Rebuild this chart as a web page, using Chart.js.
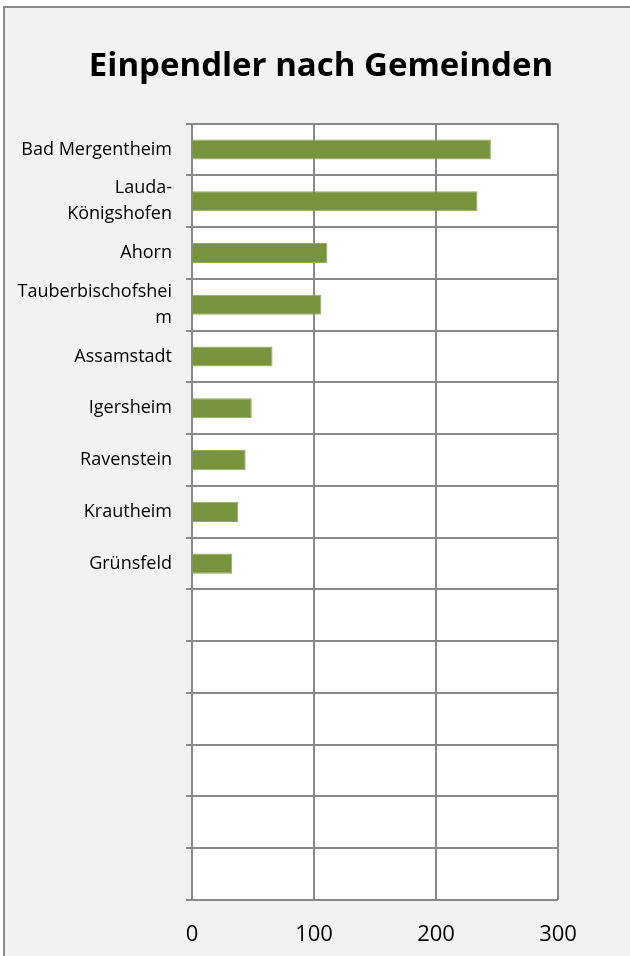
<!DOCTYPE html>
<html>
<head>
<meta charset="utf-8">
<script src="https://cdn.jsdelivr.net/npm/chart.js@4"></script>
<style>
  html, body { margin: 0; padding: 0; background: #ffffff; }
  #frame {
    position: absolute; left: 3px; top: 6px; width: 640px; height: 970px;
    background: #f2f2f2; border: 2px solid #8a8a8a; box-sizing: border-box;
  }
  #graphicEinpendler { position: absolute; left: 0; top: 0; }
</style>
</head>
<body>
<div id="frame"></div>
<canvas id="graphicEinpendler" width="630" height="956"></canvas>
<script>
// Gemeinden (leere Kategorien unten wie im Original)
const gemeinden = [
  'Bad Mergentheim', ['Lauda-', 'Königshofen'], 'Ahorn', ['Tauberbischofshei', 'm'],
  'Assamstadt', 'Igersheim', 'Ravenstein', 'Krautheim', 'Grünsfeld',
  '', '', '', '', '', ''
];
const einpendler = [245, 234, 111, 106, 66, 49, 44, 38, 33, null, null, null, null, null, null];
const xTicks = [0, 100, 200, 300];

const gridColor = '#898989';

// weißer Hintergrund nur im Plotbereich
const plotBackground = {
  id: 'plotBackground',
  beforeDraw(chart) {
    const { ctx, chartArea } = chart;
    ctx.save();
    ctx.fillStyle = '#ffffff';
    ctx.fillRect(chartArea.left, chartArea.top, chartArea.right - chartArea.left, chartArea.bottom - chartArea.top);
    ctx.restore();
  }
};

new Chart(document.getElementById('graphicEinpendler'), {
  type: 'bar',
  data: {
    labels: gemeinden,
    datasets: [{
      data: einpendler,
      backgroundColor: '#77933c',
      borderColor: '#8fae52',
      borderWidth: 1,
      categoryPercentage: 1,
      barPercentage: 0.39
    }]
  },
  options: {
    indexAxis: 'y',
    responsive: false,
    animation: false,
    layout: { padding: { left: 12, right: 0, top: 0, bottom: 0 } },
    plugins: {
      legend: { display: false },
      tooltip: { enabled: false },
      title: {
        display: true,
        text: 'Einpendler nach Gemeinden',
        color: '#000000',
        font: { family: 'Open Sans', size: 33, weight: 'bold' },
        padding: { top: 47, bottom: 37 }
      }
    },
    scales: {
      x: {
        min: 0,
        max: 300,
        afterBuildTicks: (scale) => { scale.ticks = xTicks.map(v => ({ value: v })); },
        afterFit: (scale) => { scale.height = 56; },
        border: { display: false },
        grid: { color: gridColor, lineWidth: 2, drawTicks: false },
        ticks: {
          color: '#000000',
          padding: 22,
          font: { family: 'Open Sans', size: 22 }
        }
      },
      y: {
        afterFit: (scale) => { scale.width = 180; },
        border: { display: false },
        grid: { color: gridColor, lineWidth: 2, tickLength: 6, offset: true },
        ticks: {
          color: '#000000',
          padding: 14,
          autoSkip: false,
          font: { family: 'Open Sans', size: 18, lineHeight: 1.45 }
        }
      },
      // leerer Rand rechts, damit der Titel mittig bleibt
      yRand: {
        position: 'right',
        afterFit: (scale) => { scale.width = 72; },
        border: { display: false },
        grid: { display: false },
        ticks: { display: false }
      }
    }
  },
  plugins: [plotBackground]
});
</script>
</body>
</html>
